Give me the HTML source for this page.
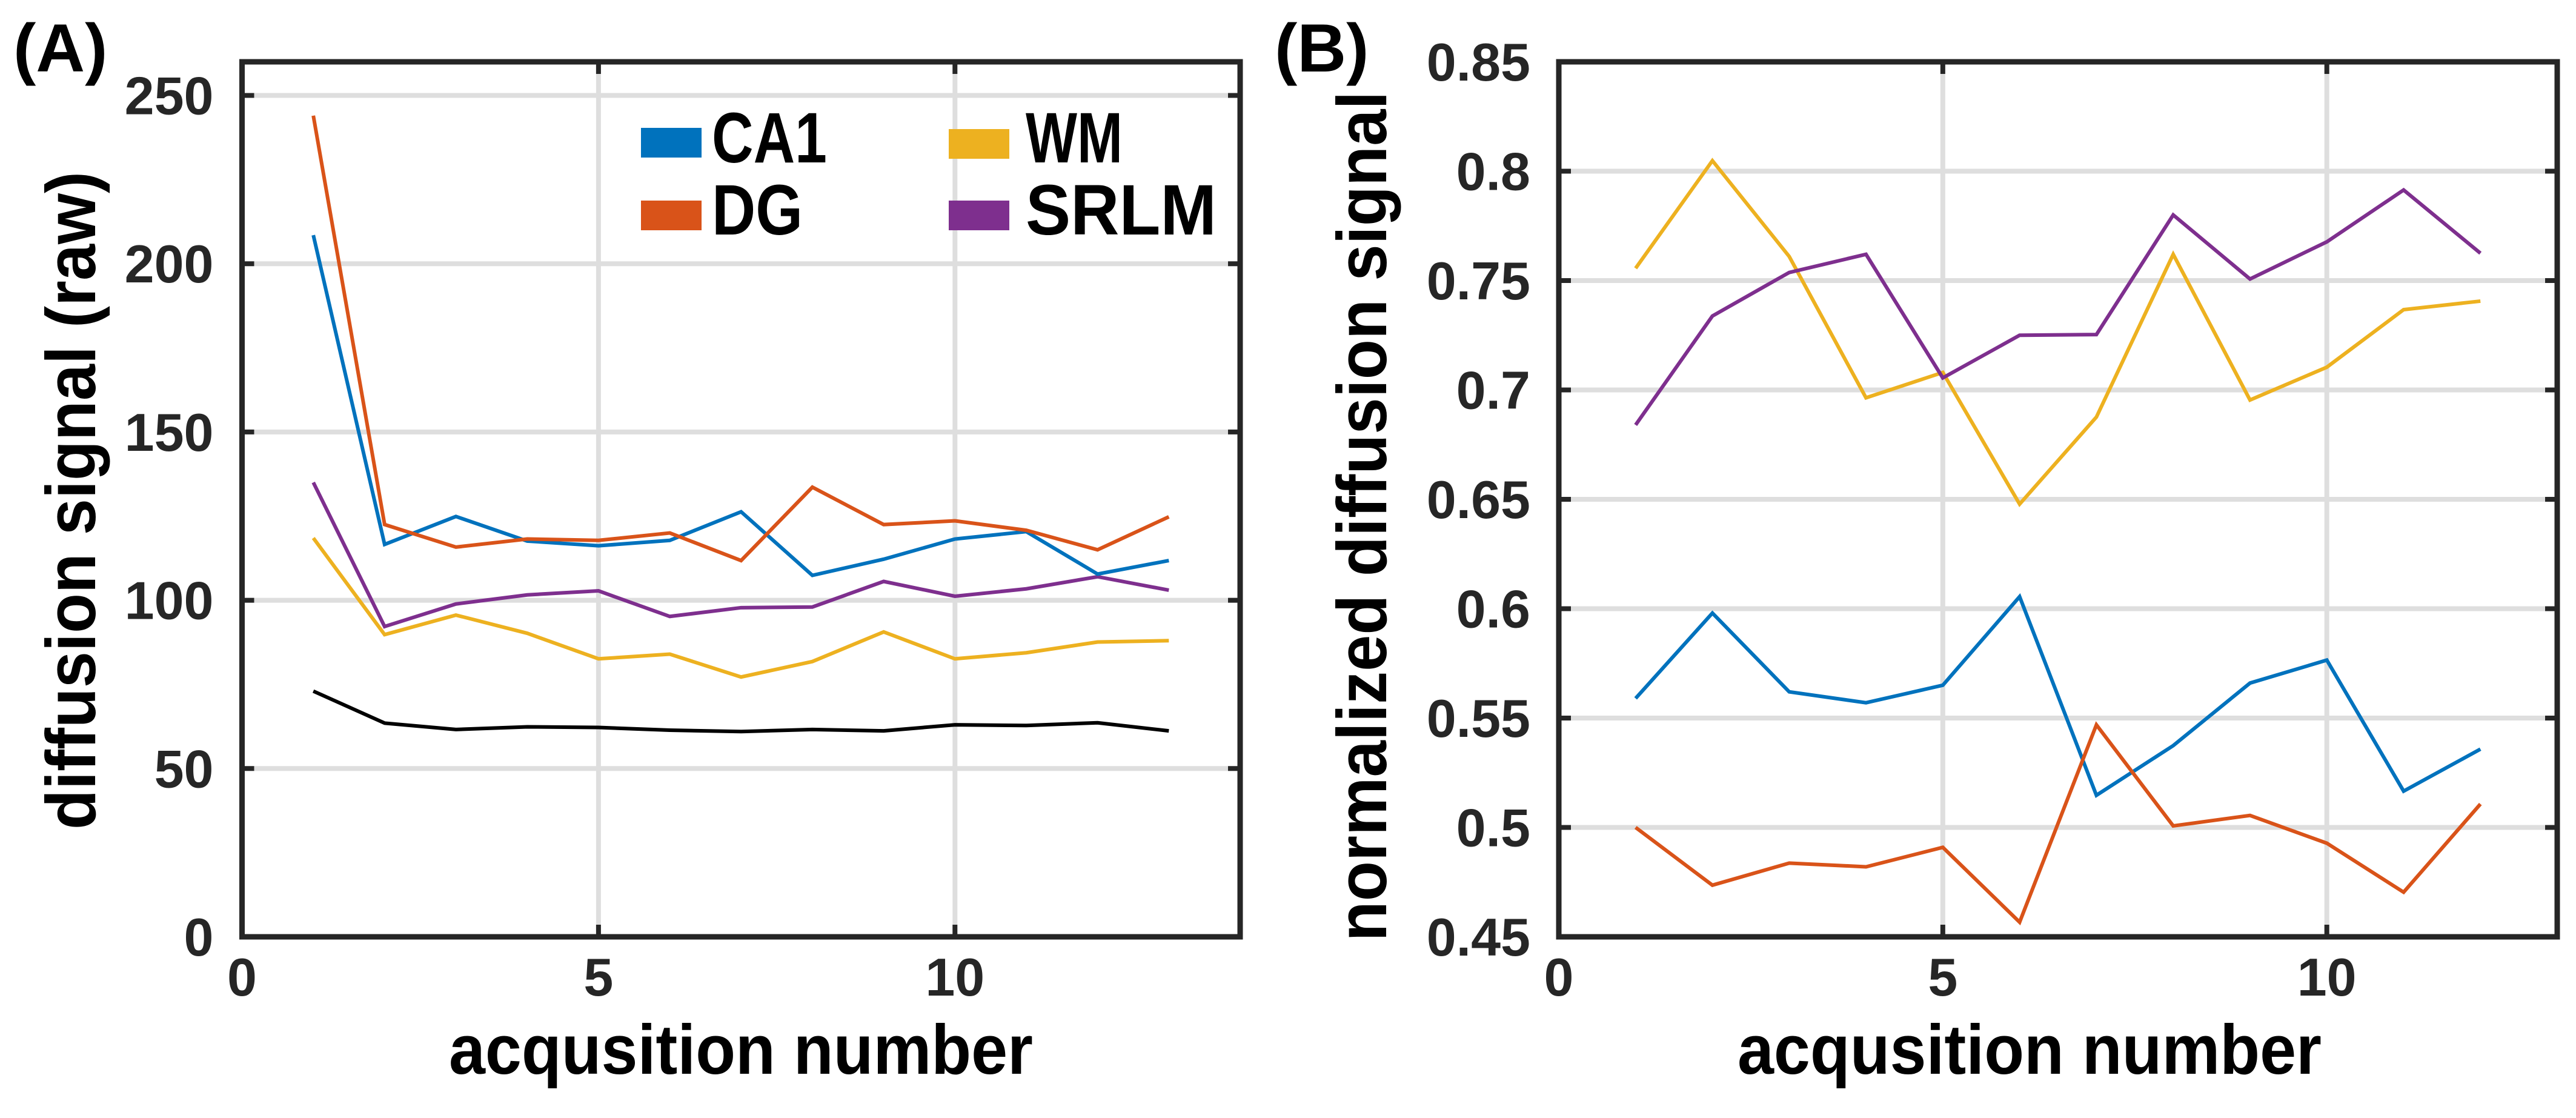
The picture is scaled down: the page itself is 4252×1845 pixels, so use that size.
<!DOCTYPE html>
<html><head><meta charset="utf-8"><style>
html,body{margin:0;padding:0;background:#fff;}
svg{display:block;font-family:"Liberation Sans",Arial,sans-serif;}
</style></head><body>
<svg id="fig" width="4252" height="1845" viewBox="0 0 4252 1845"></svg>
<script>
// ---- data ----
const xA = [1,2,3,4,5,6,7,8,9,10,11,12,13];
const ca1A = [208.5,116.6,124.9,117.6,116.2,117.8,126.3,107.4,112.2,118.2,120.4,107.8,111.8];
const dgA = [244,122.5,115.8,118.2,117.8,120,111.8,133.6,122.5,123.6,120.8,115,124.8];
const wmA = [118.5,89.8,95.6,90.2,82.6,84,77.2,81.8,90.6,82.6,84.4,87.6,88];
const srlmA = [135,92.2,98.9,101.6,102.8,95.2,97.8,98,105.6,101.2,103.4,107,103];
const noiseA = [73,63.5,61.6,62.4,62.2,61.4,61,61.6,61.2,63,62.8,63.6,61.2];
const xB = [1,2,3,4,5,6,7,8,9,10,11,12];
const ca1B = [0.559,0.598,0.562,0.557,0.565,0.6055,0.5147,0.5374,0.566,0.5765,0.5166,0.5358];
const dgB = [0.5,0.4736,0.4837,0.482,0.4909,0.4567,0.5469,0.5007,0.5055,0.4928,0.4704,0.5107];
const wmB = [0.7556,0.8048,0.761,0.6964,0.708,0.6478,0.6876,0.762,0.6954,0.7104,0.7367,0.7406];
const srlmB = [0.684,0.7338,0.7537,0.762,0.7055,0.725,0.7253,0.780,0.7507,0.7677,0.7914,0.7625];
const xTicks = [0,5,10];
const yTicksA = [0,50,100,150,200,250];
const yTickLabelsA = ["0","50","100","150","200","250"];
const yTicksB = [0.45,0.5,0.55,0.6,0.65,0.7,0.75,0.8,0.85];
const yTickLabelsB = ["0.45","0.5","0.55","0.6","0.65","0.7","0.75","0.8","0.85"];
const legendNames = ["CA1","DG","WM","SRLM"];

const NS="http://www.w3.org/2000/svg";
const svg=document.getElementById('fig');
function mk(tag,attrs,parent){const e=document.createElementNS(NS,tag);for(const k in attrs)e.setAttribute(k,attrs[k]);(parent||svg).appendChild(e);return e;}

const COL={ca1:"#0072BD",dg:"#D95319",wm:"#EDB120",srlm:"#7E2F8E",noise:"#000000"};

function panel(cfg){
  const g=mk('g',{});
  
  
  const sx=v=>cfg.x0+(v-cfg.xmin)/(cfg.xmax-cfg.xmin)*(cfg.x1-cfg.x0);
  const sy=v=>cfg.y0-(v-cfg.ymin)/(cfg.ymax-cfg.ymin)*(cfg.y0-cfg.y1);
  // grid
  cfg.xt.forEach(t=>{ if(t>cfg.xmin){const l=mk('line',{x1:sx(t),x2:sx(t),y1:cfg.y1,y2:cfg.y0,stroke:"#dedede","stroke-width":8},g);
    
    }});
  cfg.yt.forEach(t=>{ if(t>cfg.ymin && t<cfg.ymax){const l=mk('line',{x1:cfg.x0,x2:cfg.x1,y1:sy(t),y2:sy(t),stroke:"#dedede","stroke-width":8},g);
    
    }});
  // series
  cfg.series.forEach(s=>{
    const p=mk('polyline',{points:s.vals.map((v,i)=>sx(cfg.xs[i])+","+sy(v)).join(" "),fill:"none",stroke:s.color,"stroke-width":6,"stroke-linejoin":"miter"},g);
    
    
  });
  // ticks
  const tk="#262626";
  cfg.xt.forEach(t=>{ if(t>cfg.xmin){
    mk('line',{x1:sx(t),x2:sx(t),y1:cfg.y0,y2:cfg.y0-20,stroke:tk,"stroke-width":8},g);
    mk('line',{x1:sx(t),x2:sx(t),y1:cfg.y1,y2:cfg.y1+20,stroke:tk,"stroke-width":8},g);}
    const tl=mk('text',{x:sx(t),y:1643,"text-anchor":"middle","font-size":88,"font-weight":"bold",fill:tk},g);
    tl.textContent=String(t);
    
    
  });
  cfg.yt.forEach((t,i)=>{ if(t>cfg.ymin && t<cfg.ymax){
    mk('line',{x1:cfg.x0,x2:cfg.x0+20,y1:sy(t),y2:sy(t),stroke:tk,"stroke-width":8},g);
    mk('line',{x1:cfg.x1,x2:cfg.x1-20,y1:sy(t),y2:sy(t),stroke:tk,"stroke-width":8},g);}
    const tl=mk('text',{x:cfg.x0-47,y:sy(t)+31,"text-anchor":"end","font-size":88,"font-weight":"bold",fill:tk},g);
    tl.textContent=cfg.ytl[i];
    
    
  });
  // box
  const b=mk('rect',{x:cfg.x0,y:cfg.y1,width:cfg.x1-cfg.x0,height:cfg.y0-cfg.y1,fill:"none",stroke:tk,"stroke-width":9},g);
  
  
  // labels
  const xl=mk('text',{x:cfg.xlx,y:1772,"text-anchor":"middle","font-size":116,"font-weight":"bold",fill:"#000",textLength:964,lengthAdjust:"spacingAndGlyphs"},g);
  xl.textContent="acqusition number";
  
  
  const yl=mk('text',{x:0,y:0,"text-anchor":"middle","font-size":116,"font-weight":"bold",fill:"#000",textLength:cfg.ylLen,lengthAdjust:"spacingAndGlyphs",transform:`translate(${cfg.ylx},${cfg.ylc}) rotate(-90)`},g);
  yl.textContent=cfg.ylabel;
  
  
  const pl=mk('text',{x:cfg.plx,y:118,"font-size":112,"font-weight":"bold",fill:"#000"},g);
  pl.textContent=cfg.plabel;
  
  
}

panel({name:'panel-a-raw-signal',x0:399.5,x1:2047,y0:1546,y1:102,xmin:0,xmax:14,ymin:0,ymax:260,
  xs:xA,xt:xTicks,yt:yTicksA,ytl:yTickLabelsA,xlx:1223,ylx:157,ylc:826,ylLen:1086,
  ylabel:"diffusion signal (raw)",plabel:"(A)",plx:22,
  series:[{name:'noise-line',vals:noiseA,color:COL.noise},{name:'wm-line',vals:wmA,color:COL.wm},
    {name:'srlm-line',vals:srlmA,color:COL.srlm},{name:'ca1-line',vals:ca1A,color:COL.ca1},{name:'dg-line',vals:dgA,color:COL.dg}]});

panel({name:'panel-b-normalized-signal',x0:2573,x1:4221,y0:1546,y1:102,xmin:0,xmax:13,ymin:0.45,ymax:0.85,
  xs:xB,xt:xTicks,yt:yTicksB,ytl:yTickLabelsB,xlx:3350,ylx:2288,ylc:852,ylLen:1403,
  ylabel:"normalized diffusion signal",plabel:"(B)",plx:2104,
  series:[{name:'wm-line',vals:wmB,color:COL.wm},{name:'srlm-line',vals:srlmB,color:COL.srlm},
    {name:'ca1-line',vals:ca1B,color:COL.ca1},{name:'dg-line',vals:dgB,color:COL.dg}]});

// legend
const lg=mk('g',{});


const legendCols=[COL.ca1,COL.dg,COL.wm,COL.srlm];
const legendPos=[[1058,211,1175,268],[1058,331,1175,387],[1566,213,1693,268],[1566,331,1693,387]];
const legendLens=[190,150,160,315];
legendNames.forEach((n,i)=>{
  const p=legendPos[i];
  const r=mk('rect',{x:p[0],y:p[1],width:100,height:49,fill:legendCols[i]},lg);
  
  
  const t=mk('text',{x:p[2],y:p[3],"font-size":118,"font-weight":"bold",fill:"#000",textLength:legendLens[i],lengthAdjust:"spacingAndGlyphs"},lg);
  t.textContent=n;
  
  
});
</script>
</body></html>
